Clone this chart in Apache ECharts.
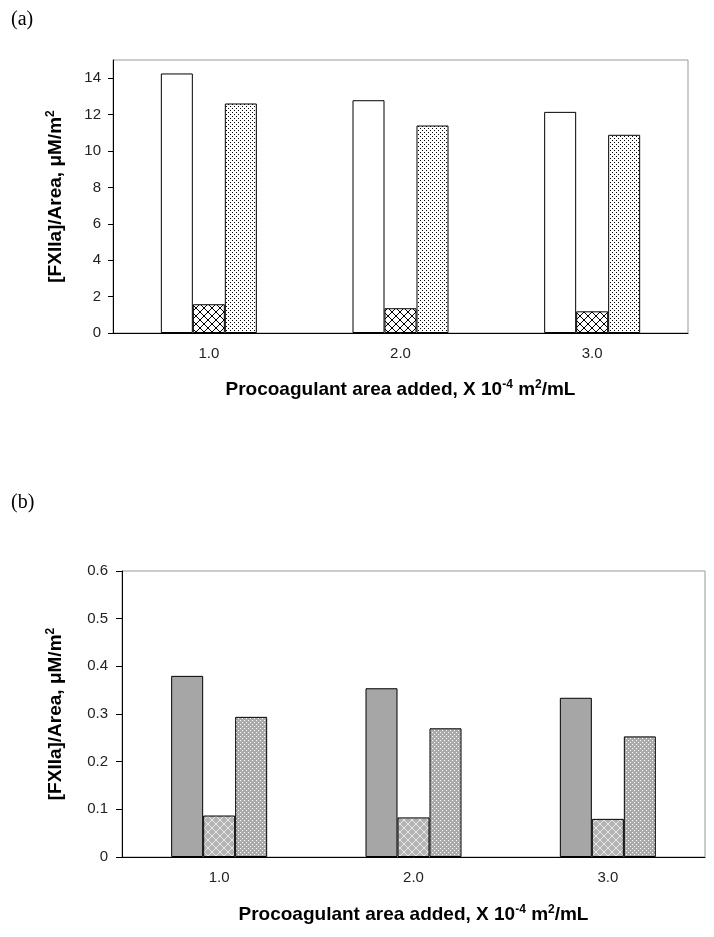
<!DOCTYPE html>
<html>
<head>
<meta charset="utf-8">
<script src="https://cdn.jsdelivr.net/npm/echarts@6/dist/echarts.min.js"></script>
<style>
  html, body { margin: 0; padding: 0; background: #fff; }
  #chart { width: 714px; height: 937px; }
</style>
</head>
<body>
<div id="chart"></div>
<script>
// 数据
const categories = ['1.0', '2.0', '3.0'];
const aOpen = [14.26, 12.79, 12.15];     // (a) 空白柱
const aHatch = [1.58, 1.36, 1.19];       // (a) 网格柱
const aDots = [12.61, 11.40, 10.89];     // (a) 点状柱
const bSolid = [0.380, 0.354, 0.334];    // (b) 灰色柱
const bHatch = [0.087, 0.083, 0.080];    // (b) 网格柱
const bDots = [0.294, 0.270, 0.253];     // (b) 点状柱
const aTicks = [0, 2, 4, 6, 8, 10, 12, 14];
const bTicks = [0, 0.1, 0.2, 0.3, 0.4, 0.5, 0.6];

const sans = '"Liberation Sans", Arial, sans-serif';
const serif = '"Liberation Serif", "Times New Roman", serif';

// 纹理
function hatchTile(bg, fg) {
  const c = document.createElement('canvas');
  c.width = 8; c.height = 8;
  const ctx = c.getContext('2d');
  ctx.fillStyle = bg;
  ctx.fillRect(0, 0, 8, 8);
  ctx.strokeStyle = fg;
  ctx.lineWidth = 1;
  ctx.beginPath();
  ctx.moveTo(0, 0); ctx.lineTo(8, 8);
  ctx.moveTo(8, 0); ctx.lineTo(0, 8);
  ctx.stroke();
  return c;
}
function dotTile(bg, fg) {
  const c = document.createElement('canvas');
  c.width = 4; c.height = 4;
  const ctx = c.getContext('2d');
  ctx.fillStyle = bg;
  ctx.fillRect(0, 0, 4, 4);
  ctx.fillStyle = fg;
  ctx.fillRect(0, 0, 1, 1);
  ctx.fillRect(2, 2, 1, 1);
  return c;
}

const chart = echarts.init(document.getElementById('chart'), null, { renderer: 'canvas' });

const yNameText = '[FXIIa]/Area, \u03bcM/m{sup|2}';
const xNameText = 'Procoagulant area added, X 10{sup|-4} m{sup|2}/mL';

function nameStyle(size) {
  return {
    fontFamily: sans,
    fontWeight: 'bold',
    fontSize: size,
    color: '#000',
    rich: {
      sup: { fontFamily: sans, fontWeight: 'bold', fontSize: 12, color: '#000', padding: [0, 0, 10, 0] }
    }
  };
}

function barSeries(name, data, idx, fill) {
  return {
    name: name,
    type: 'bar',
    xAxisIndex: idx,
    yAxisIndex: idx,
    barWidth: 32,
    barGap: '0%',
    data: data,
    itemStyle: {
      color: fill,
      borderColor: '#000',
      borderWidth: 1
    }
  };
}

chart.setOption({
  animation: false,
  title: [{
    text: '(a)', left: 6, top: 5,
    textStyle: { fontFamily: serif, fontWeight: 'normal', fontSize: 20, color: '#000' }
  }, {
    text: '(b)', left: 6, top: 488,
    textStyle: { fontFamily: serif, fontWeight: 'normal', fontSize: 20, color: '#000' }
  }],
  grid: [{
    left: 113, top: 60, width: 575, height: 273,
    show: true, borderColor: '#999', borderWidth: 1
  }, {
    left: 122, top: 571, width: 583, height: 286,
    show: true, borderColor: '#999', borderWidth: 1
  }],
  xAxis: [0, 1].map(i => ({
    type: 'category',
    gridIndex: i,
    data: categories,
    name: xNameText,
    nameLocation: 'middle',
    nameGap: i === 0 ? 46 : 47,
    nameTextStyle: nameStyle(19),
    axisLine: { lineStyle: { color: '#000', width: 1 } },
    axisTick: { length: 5, lineStyle: { color: '#000' } },
    axisLabel: { margin: 13, fontFamily: sans, fontSize: 15, color: '#222' }
  })),
  yAxis: [{
    type: 'value',
    gridIndex: 0,
    min: 0, max: 15,
    name: yNameText,
    nameLocation: 'middle',
    nameGap: 46,
    nameTextStyle: nameStyle(19),
    axisLine: { show: true, lineStyle: { color: '#000', width: 1 } },
    axisTick: { show: true, length: 5, lineStyle: { color: '#000' }, customValues: aTicks },
    axisLabel: { margin: 12, fontFamily: sans, fontSize: 15, color: '#222', customValues: aTicks },
    splitLine: { show: false }
  }, {
    type: 'value',
    gridIndex: 1,
    min: 0, max: 0.6,
    name: yNameText,
    nameLocation: 'middle',
    nameGap: 55,
    nameTextStyle: nameStyle(19),
    axisLine: { show: true, lineStyle: { color: '#000', width: 1 } },
    axisTick: { show: true, length: 6, lineStyle: { color: '#000' }, customValues: bTicks },
    axisLabel: { margin: 14, fontFamily: sans, fontSize: 15, color: '#222', customValues: bTicks },
    splitLine: { show: false }
  }],
  series: [
    barSeries('a1', aOpen, 0, '#fff'),
    barSeries('a2', aHatch, 0, { image: hatchTile('#fff', '#000'), repeat: 'repeat' }),
    barSeries('a3', aDots, 0, { image: dotTile('#fff', '#000'), repeat: 'repeat' }),
    barSeries('b1', bSolid, 1, '#a6a6a6'),
    barSeries('b2', bHatch, 1, { image: hatchTile('#b4b4b4', '#e8e8e8'), repeat: 'repeat' }),
    barSeries('b3', bDots, 1, { image: dotTile('#aaaaaa', '#ffffff'), repeat: 'repeat' })
  ]
});
</script>
</body>
</html>
